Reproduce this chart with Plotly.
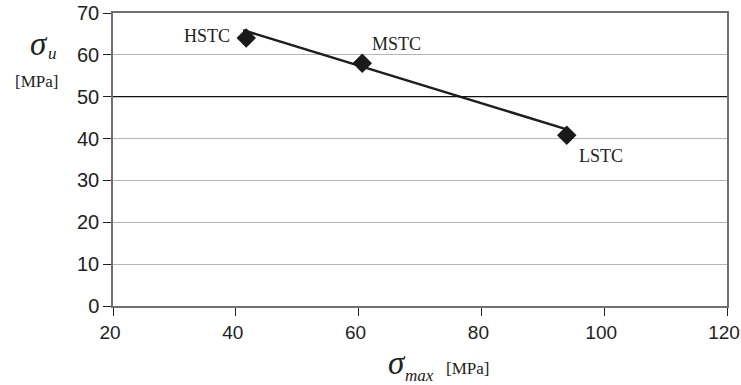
import plotly.graph_objects as go

# Data
names = ["HSTC", "MSTC", "LSTC"]
sigma_max = [41.7, 60.6, 93.9]
sigma_u = [64.0, 58.0, 40.8]
trend_x = [41.2, 93.9]
trend_y = [65.9, 42.2]
ref_line_y = 50
x_ticks = [20, 40, 60, 80, 100, 120]
y_ticks = [0, 10, 20, 30, 40, 50, 60, 70]

serif = "Liberation Serif, Times New Roman, serif"
sans = "Liberation Sans, Arial, sans-serif"
ink = "#222222"

fig = go.Figure()
fig.add_trace(go.Scatter(x=trend_x, y=trend_y, mode="lines",
                         line=dict(color="#1e1e1e", width=2.5), showlegend=False, hoverinfo="skip"))
fig.add_trace(go.Scatter(x=sigma_max, y=sigma_u, mode="markers",
                         marker=dict(symbol="diamond", size=15, color="#1a1a1a"), showlegend=False))

fig.add_shape(type="line", xref="paper", x0=0, x1=1, yref="y", y0=ref_line_y, y1=ref_line_y,
              line=dict(color="#111111", width=1.2), layer="above")

# point labels
offsets = {"HSTC": ("right", -14, 2), "MSTC": ("left", 8, 19), "LSTC": ("left", 10, -21)}
for n, xv, yv in zip(names, sigma_max, sigma_u):
    anc, xs, ys = offsets[n]
    fig.add_annotation(x=xv, y=yv, xref="x", yref="y", text=n, showarrow=False,
                       xanchor=anc, yanchor="middle", xshift=xs, yshift=ys,
                       font=dict(family=serif, size=18, color=ink))

def note(x, y, text, size, italic=False):
    fig.add_annotation(xref="paper", yref="paper", x=x, y=y, xanchor="center", yanchor="middle",
                       text=f"<i>{text}</i>" if italic else text, showarrow=False,
                       font=dict(family=serif, size=size, color=ink))

# axis titles
note(-0.120, 0.893, "σ", 33, True)
note(-0.098, 0.862, "u", 17, True)
note(-0.124, 0.765, "[MPa]", 17)
note(0.4625, -0.195, "σ", 33, True)
note(0.499, -0.236, "max", 17, True)
note(0.578, -0.215, "[MPa]", 17)

fig.update_layout(
    width=741, height=385,
    margin=dict(l=113, r=14, t=13, b=79, autoexpand=False),
    plot_bgcolor="white", paper_bgcolor="white",
    font=dict(family=sans, size=19, color=ink),
)
fig.update_xaxes(range=[20, 120], tickvals=x_ticks, showgrid=False, zeroline=False, automargin=False,
                 showline=True, linecolor="#707070", linewidth=1.5, mirror=True,
                 ticks="outside", ticklen=8, tickcolor=ink, tickwidth=1.2, ticklabeloverflow="allow",
                 ticklabelshift=-3,
                 tickfont=dict(family=sans, size=19, color=ink))
fig.update_yaxes(range=[0, 70], tickvals=y_ticks, showgrid=True, gridcolor="#b4b4b4", gridwidth=1,
                 zeroline=False, automargin=False, showline=True, linecolor="#707070", linewidth=1.5,
                 mirror=True, ticks="outside", ticklen=8, tickcolor=ink, tickwidth=1.2,
                 tickfont=dict(family=sans, size=20, color=ink))

fig.write_html("out.html", config={"displayModeBar": False},
               post_script="document.body.style.margin='0';document.body.style.overflow='hidden';")
